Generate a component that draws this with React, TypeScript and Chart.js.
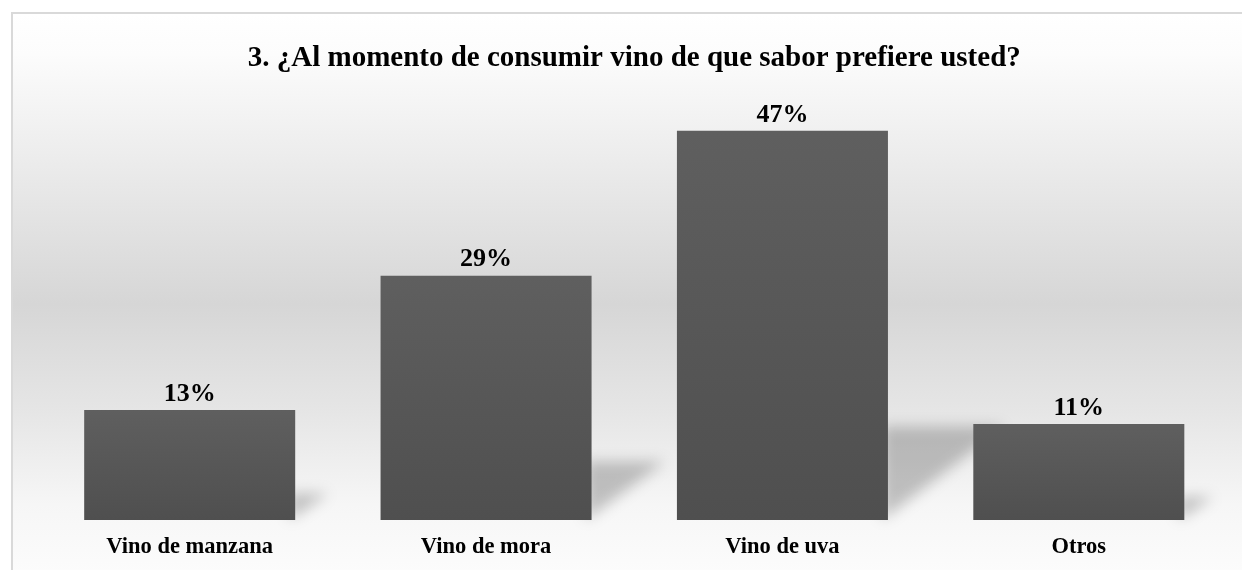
import React, { useEffect, useRef } from "react";
import { Chart, registerables } from "chart.js";

Chart.register(...registerables);

const TITLE = "3. ¿Al momento de consumir vino de que sabor prefiere usted?";
const categories = ["Vino de manzana", "Vino de mora", "Vino de uva", "Otros"];
const values = [13.3, 29.5, 47, 11.6];
const valueLabels = ["13%", "29%", "47%", "11%"];

const FONT = "'Liberation Serif', 'Times New Roman', serif";

const shadowPlugin = {
  id: "barShadow",
  beforeDatasetsDraw(chart: any) {
    const ctx = chart.ctx;
    const meta = chart.getDatasetMeta(0);
    ctx.save();
    ctx.filter = "blur(7px)";
    meta.data.forEach((bar: any) => {
      const right = bar.x + bar.width / 2;
      const bottom = bar.base;
      const h = bottom - bar.y;
      ctx.beginPath();
      ctx.moveTo(right - 6, bottom - 0.24 * h);
      ctx.lineTo(right + 0.3 * h, bottom - 0.24 * h);
      ctx.lineTo(right - 6, bottom);
      ctx.closePath();
      ctx.fillStyle = "rgba(0,0,0,0.22)";
      ctx.fill();
    });
    ctx.restore();
  },
};

const labelPlugin = {
  id: "valueLabels",
  afterDatasetsDraw(chart: any) {
    const ctx = chart.ctx;
    const meta = chart.getDatasetMeta(0);
    const xScale = chart.scales.x;
    ctx.save();
    ctx.fillStyle = "#000";
    ctx.textAlign = "center";
    ctx.textBaseline = "middle";
    ctx.font = `bold 26px ${FONT}`;
    meta.data.forEach((bar: any, i: number) => {
      ctx.fillText(valueLabels[i], bar.x, bar.y - 16);
    });
    ctx.font = `bold 22.5px ${FONT}`;
    categories.forEach((c, i) => {
      ctx.fillText(c, xScale.getPixelForValue(i), chart.chartArea.bottom + 27);
    });
    ctx.restore();
  },
};

export default function App() {
  const ref = useRef<HTMLCanvasElement>(null);

  useEffect(() => {
    if (!ref.current) return;
    const chart = new Chart(ref.current, {
      type: "bar",
      data: {
        labels: categories,
        datasets: [
          {
            data: values,
            backgroundColor: (c: any) => {
              const ch = c.chart;
              const area = ch.chartArea;
              if (!area || !ch.scales || !ch.scales.y) return "#565656";
              const v = values[c.dataIndex] ?? 0;
              const top = ch.scales.y.getPixelForValue(v);
              const bot = ch.scales.y.getPixelForValue(0);
              if (!isFinite(top) || !isFinite(bot) || top === bot) return "#565656";
              const g = ch.ctx.createLinearGradient(0, top, 0, bot);
              g.addColorStop(0, "#5f5f5f");
              g.addColorStop(1, "#4f4f4f");
              return g;
            },
            borderWidth: 0,
            categoryPercentage: 1,
            barPercentage: 0.712,
          },
        ],
      },
      options: {
        animation: false,
        responsive: false,
        maintainAspectRatio: false,
        layout: { padding: { left: 28.5, right: 15, top: 0, bottom: 50 } },
        plugins: {
          legend: { display: false },
          tooltip: { enabled: false },
          title: {
            display: true,
            text: TITLE,
            color: "#000",
            font: { family: FONT, size: 29, weight: "bold", lineHeight: 1.2 },
            padding: { top: 27.6, bottom: 29.6 },
          },
        },
        scales: {
          x: {
            grid: { display: false, drawTicks: false },
            border: { display: false },
            ticks: { display: false },
          },
          y: {
            display: false,
            min: 0,
            max: 50,
          },
        },
      },
      plugins: [shadowPlugin, labelPlugin],
    });
    return () => chart.destroy();
  }, []);

  return (
    <div
      style={{
        position: "fixed",
        left: 0,
        top: 0,
        width: 1242,
        height: 570,
        overflow: "hidden",
        background: "#fff",
      }}
    >
      <div
        style={{
          position: "absolute",
          left: 11,
          top: 12,
          width: 1240,
          height: 570,
          borderTop: "2px solid #d9d9d9",
          borderLeft: "2px solid #d9d9d9",
          background:
            "linear-gradient(to bottom, #ffffff 0px, #fcfcfc 40px, #d6d6d6 290px, #e6e6e6 400px, #f6f6f6 490px, #fcfcfc 558px)",
        }}
      >
        <canvas ref={ref} width={1229} height={556} style={{ display: "block" }} />
      </div>
    </div>
  );
}
